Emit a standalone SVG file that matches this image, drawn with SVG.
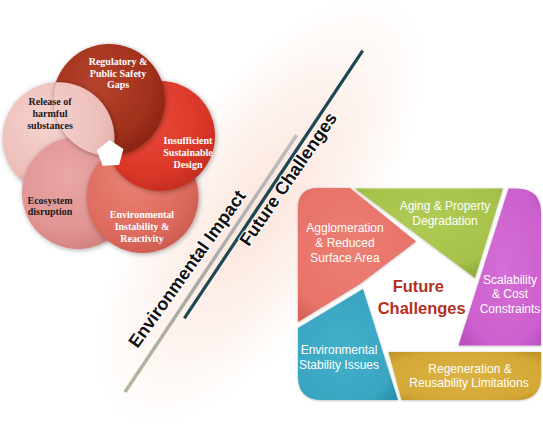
<svg xmlns="http://www.w3.org/2000/svg" width="543" height="426" viewBox="0 0 543 426">
<defs>
  <radialGradient id="bg" cx="0" cy="0" r="1" gradientUnits="userSpaceOnUse" gradientTransform="translate(260,210) rotate(-56.3) scale(250,105)">
    <stop offset="0" stop-color="#fce5dc"/>
    <stop offset="0.55" stop-color="#fdf2ed"/>
    <stop offset="1" stop-color="#ffffff"/>
  </radialGradient>
  <radialGradient id="gRel" cx="0.4" cy="0.35" r="0.7">
    <stop offset="0" stop-color="#f5d3cf"/><stop offset="0.7" stop-color="#eebfba"/><stop offset="1" stop-color="#dfa5a0"/>
  </radialGradient>
  <radialGradient id="gReg" cx="0.4" cy="0.35" r="0.7">
    <stop offset="0" stop-color="#b6432d"/><stop offset="0.7" stop-color="#a0301c"/><stop offset="1" stop-color="#882313"/>
  </radialGradient>
  <radialGradient id="gIns" cx="0.4" cy="0.35" r="0.7">
    <stop offset="0" stop-color="#ea4a3a"/><stop offset="0.7" stop-color="#db3829"/><stop offset="1" stop-color="#c12b20"/>
  </radialGradient>
  <radialGradient id="gIna" cx="0.4" cy="0.35" r="0.7">
    <stop offset="0" stop-color="#e88174"/><stop offset="0.7" stop-color="#dd6b5e"/><stop offset="1" stop-color="#cc5a50"/>
  </radialGradient>
  <radialGradient id="gEco" cx="0.4" cy="0.35" r="0.7">
    <stop offset="0" stop-color="#eaa8a6"/><stop offset="0.7" stop-color="#e09392"/><stop offset="1" stop-color="#d27f7e"/>
  </radialGradient>
  <radialGradient id="pSal" cx="0.45" cy="0.45" r="0.65">
    <stop offset="0" stop-color="#ec7e72"/><stop offset="0.8" stop-color="#e8736a"/><stop offset="1" stop-color="#d8645b"/>
  </radialGradient>
  <radialGradient id="pGrn" cx="0.5" cy="0.35" r="0.65">
    <stop offset="0" stop-color="#b0cb55"/><stop offset="0.8" stop-color="#a6c24a"/><stop offset="1" stop-color="#93ae3c"/>
  </radialGradient>
  <radialGradient id="pPur" cx="0.55" cy="0.5" r="0.65">
    <stop offset="0" stop-color="#d56ed6"/><stop offset="0.8" stop-color="#cc60ce"/><stop offset="1" stop-color="#bb52bf"/>
  </radialGradient>
  <radialGradient id="pGld" cx="0.5" cy="0.5" r="0.65">
    <stop offset="0" stop-color="#dbb244"/><stop offset="0.8" stop-color="#d4a836"/><stop offset="1" stop-color="#c3962a"/>
  </radialGradient>
  <radialGradient id="pTea" cx="0.45" cy="0.55" r="0.65">
    <stop offset="0" stop-color="#44b0ca"/><stop offset="0.8" stop-color="#39a5c1"/><stop offset="1" stop-color="#2d92ad"/>
  </radialGradient>
  <linearGradient id="greyLine" gradientUnits="userSpaceOnUse" x1="296.7" y1="135" x2="125" y2="392">
    <stop offset="0" stop-color="#bdbdbd"/><stop offset="0.6" stop-color="#a8a8a8"/><stop offset="1" stop-color="#b2b79c"/>
  </linearGradient>
  <filter id="sh" x="-20%" y="-20%" width="140%" height="140%">
    <feDropShadow dx="1" dy="1" stdDeviation="2.5" flood-color="#000" flood-opacity="0.35"/>
  </filter>
  <filter id="psh" x="-10%" y="-10%" width="120%" height="120%">
    <feDropShadow dx="0" dy="0.5" stdDeviation="1.2" flood-color="#000" flood-opacity="0.3"/>
  </filter>
  <clipPath id="clipReg"><circle cx="109" cy="100" r="56"/></clipPath>
  <style>
    .ft{font-family:"Liberation Serif","Times New Roman",serif;font-weight:bold;font-size:10px;text-anchor:middle}
    .w{fill:#ffffff}
    .k{fill:#1a1a1a}
    .pt{font-family:"Liberation Sans",Arial,sans-serif;font-size:12px;fill:#ffffff;text-anchor:middle}
    .dt{font-family:"Liberation Sans",Arial,sans-serif;font-weight:bold;font-size:18px;fill:#111111;text-anchor:middle;stroke:#ffffff;stroke-width:2;paint-order:stroke;stroke-linejoin:round}
    .ct{font-family:"Liberation Sans",Arial,sans-serif;font-weight:bold;font-size:16.5px;fill:#b5301f;text-anchor:middle}
  </style>
</defs>

<rect width="543" height="426" fill="#ffffff"/>
<rect width="543" height="426" fill="url(#bg)"/>

<!-- Flower (Environmental Impact) -->
<g id="flower">
  <g id="release"><circle cx="58.4" cy="138.2" r="56" fill="url(#gRel)" filter="url(#sh)"/></g>
  <g id="ecosystem"><circle cx="78" cy="193" r="56" fill="url(#gEco)" filter="url(#sh)"/></g>
  <g id="instability"><circle cx="142.5" cy="197" r="56" fill="url(#gIna)" filter="url(#sh)"/></g>
  <g id="insufficient"><circle cx="160" cy="136" r="55" fill="url(#gIns)" filter="url(#sh)"/></g>
  <g id="regulatory"><circle cx="109" cy="100" r="56" fill="url(#gReg)" filter="url(#sh)"/></g>
  <g clip-path="url(#clipReg)"><circle cx="58.4" cy="138.2" r="56" fill="url(#gRel)" filter="url(#sh)"/></g>
  <polygon id="hole" points="109.6,140 123.4,149 119.1,164.9 102.7,165.7 96.8,150.4" fill="#ffffff"/>
  <text class="ft w" x="118" y="65.2">Regulatory  &amp;</text>
  <text class="ft w" x="118" y="76.8">Public Safety</text>
  <text class="ft w" x="118" y="87.8">Gaps</text>
  <text class="ft k" x="50" y="105.2">Release of</text>
  <text class="ft k" x="50" y="116.8">harmful</text>
  <text class="ft k" x="50" y="129.2">substances</text>
  <text class="ft w" x="188" y="143.5">Insufficient</text>
  <text class="ft w" x="188" y="155.8">Sustainable</text>
  <text class="ft w" x="188" y="167.8">Design</text>
  <text class="ft k" x="50" y="203.5">Ecosystem</text>
  <text class="ft k" x="50" y="215.2">disruption</text>
  <text class="ft w" x="142" y="217.8">Environmental</text>
  <text class="ft w" x="142" y="229.5">Instability  &amp;</text>
  <text class="ft w" x="142" y="241.8">Reactivity</text>
</g>

<!-- Divider lines -->
<g id="connectors">
  <line x1="296.7" y1="135" x2="125" y2="392" stroke="url(#greyLine)" stroke-width="3.5"/>
  <line x1="362.7" y1="50.7" x2="184.3" y2="318.3" stroke="#1d4852" stroke-width="3.2"/>
</g>

<g id="label-env">
  <text class="dt" transform="translate(192,272.5) rotate(-54.5)">Environmental Impact</text>
</g>
<g id="label-future">
  <text class="dt" transform="translate(293.3,182.5) rotate(-55.5)">Future Challenges</text>
</g>

<!-- Future challenges panel -->
<g id="panel">
  <g id="agglomeration">
    <path d="M298,208 Q298,188 318,188 L350,188 L416,241.5 L360,284 L298,322 Z" fill="url(#pSal)" filter="url(#psh)"/>
    <text class="pt" x="345" y="232">Agglomeration</text>
    <text class="pt" x="345" y="247">&amp; Reduced</text>
    <text class="pt" x="345" y="262">Surface Area</text>
  </g>
  <g id="aging">
    <path d="M355,188.5 L503,188.5 L475,278 Z" fill="url(#pGrn)" filter="url(#psh)"/>
    <text class="pt" x="445" y="210">Aging &amp; Property</text>
    <text class="pt" x="445" y="225">Degradation</text>
  </g>
  <g id="scalability">
    <path d="M508.5,188.5 L516,188.5 Q541,188.5 541,213 L541,345.5 L458.5,345.5 Z" fill="url(#pPur)" filter="url(#psh)"/>
    <text class="pt" x="510" y="283.5">Scalability</text>
    <text class="pt" x="510" y="298">&amp; Cost</text>
    <text class="pt" x="510" y="312.5">Constraints</text>
  </g>
  <g id="regeneration">
    <path d="M388.5,352 L541,352 L541,376 Q541,400 517,400 L401.5,400 Z" fill="url(#pGld)" filter="url(#psh)"/>
    <text class="pt" x="470" y="372.5">Regeneration &amp;</text>
    <text class="pt" x="469" y="387">Reusability Limitations</text>
  </g>
  <g id="stability">
    <path d="M363,289 L398,400 L322,400 Q298,400 298,376 L298,328 Z" fill="url(#pTea)" filter="url(#psh)"/>
    <text class="pt" x="339" y="354">Environmental</text>
    <text class="pt" x="339" y="369">Stability Issues</text>
  </g>
  <g id="center">
    <text class="ct" x="418.3" y="291.7">Future</text>
    <text class="ct" x="421.7" y="314.3">Challenges</text>
  </g>
</g>
</svg>
